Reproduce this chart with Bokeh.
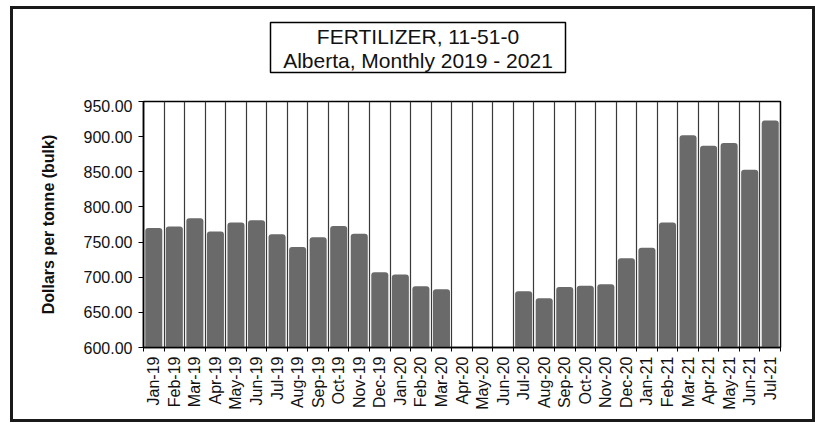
from bokeh.plotting import figure
from bokeh.layouts import column
from bokeh.models import Range1d, FixedTicker, NumeralTickFormatter, ColumnDataSource
from bokeh.core.properties import value
from bokeh.embed import file_html
from bokeh.resources import INLINE
import math

# ---- data ----
months = ["Jan-19", "Feb-19", "Mar-19", "Apr-19", "May-19", "Jun-19", "Jul-19", "Aug-19",
          "Sep-19", "Oct-19", "Nov-19", "Dec-19", "Jan-20", "Feb-20", "Mar-20", "Apr-20",
          "May-20", "Jun-20", "Jul-20", "Aug-20", "Sep-20", "Oct-20", "Nov-20", "Dec-20",
          "Jan-21", "Feb-21", "Mar-21", "Apr-21", "May-21", "Jun-21", "Jul-21"]
prices = [770, 772, 784, 765, 778, 781, 761, 743,
          757, 773, 762, 707, 704, 687, 683, None,
          None, None, 680, 670, 686, 688, 690, 727,
          742, 778, 902, 887, 891, 853, 923]
y_ticks = [600, 650, 700, 750, 800, 850, 900, 950]
title_lines = ["FERTILIZER, 11-51-0", "Alberta, Monthly 2019 - 2021"]
y_label = "Dollars per tonne (bulk)"

FONT = "Liberation Sans"
W = 799
BORDER_L, BORDER_R = 130, 32
FRAME_W = W - BORDER_L - BORDER_R
TITLE_H = 90

xs = [i for i, v in enumerate(prices) if v is not None]
tops = [v for v in prices if v is not None]
src = ColumnDataSource(dict(x=xs, top=tops))

# ---- title strip (boxed two-line title), pixel-like coordinates ----
tf = figure(width=W, height=TITLE_H, output_backend="svg", toolbar_location=None,
            x_range=Range1d(0, FRAME_W), y_range=Range1d(0, TITLE_H),
            x_axis_type=None, y_axis_type=None,
            min_border_left=BORDER_L, min_border_right=BORDER_R,
            min_border_top=0, min_border_bottom=0)
tf.grid.visible = False
tf.outline_line_color = None
tf.border_fill_color = None
tf.background_fill_color = None
box_cx, box_w, box_bottom, box_top = 274.5, 295, 27, 77
tf.quad(left=[box_cx - box_w / 2], right=[box_cx + box_w / 2], bottom=[box_bottom], top=[box_top],
        fill_color="white", line_color="black", line_width=1.5)
tf.text(x=[box_cx, box_cx], y=[63.3, 39.5], text=title_lines,
        text_align="center", text_baseline="middle",
        text_font=value(FONT), text_font_size=value("21px"), text_color="#111111")

# ---- main chart ----
p = figure(width=W, height=320, output_backend="svg", toolbar_location=None,
           x_range=Range1d(-0.5, len(months) - 0.5), y_range=Range1d(y_ticks[0], y_ticks[-1]),
           min_border_left=BORDER_L, min_border_right=BORDER_R, min_border_top=2, min_border_bottom=72)
p.background_fill_color = "white"
p.border_fill_color = None
p.outline_line_color = "black"
p.outline_line_width = 1.5

# vertical separators at category boundaries
p.xgrid.ticker = FixedTicker(ticks=[i - 0.5 for i in range(len(months) + 1)])
p.xgrid.grid_line_color = "#3a3a3a"
p.xgrid.grid_line_width = 1.2
p.ygrid.visible = False

p.vbar(x="x", top="top", bottom=y_ticks[0], width=0.83, source=src,
       fill_color="#6a6a6a", line_color=None, border_radius=(3, 3, 0, 0))

# x axis
xa = p.xaxis[0]
xa.ticker = FixedTicker(ticks=list(range(len(months))),
                        minor_ticks=[i - 0.5 for i in range(len(months) + 1)])
xa.major_label_overrides = {i: m for i, m in enumerate(months)}
xa.major_label_orientation = math.pi / 2
xa.major_tick_line_color = None
xa.major_tick_out = 0
xa.major_tick_in = 0
xa.minor_tick_line_color = "black"
xa.minor_tick_out = 4
xa.minor_tick_in = 0
xa.major_label_standoff = 5
xa.major_label_text_font = FONT
xa.major_label_text_font_size = "16px"
xa.major_label_text_color = "#111111"
xa.axis_line_color = "black"
xa.axis_line_width = 1.5

# y axis
ya = p.yaxis[0]
ya.ticker = FixedTicker(ticks=y_ticks)
ya.formatter = NumeralTickFormatter(format="0.00")
ya.major_tick_out = 5
ya.major_tick_in = 0
ya.minor_tick_line_color = None
ya.major_label_standoff = 6
ya.major_label_text_font = FONT
ya.major_label_text_font_size = "16px"
ya.major_label_text_color = "#111111"
ya.axis_line_color = "black"
ya.axis_line_width = 1.5
ya.axis_label = y_label
ya.axis_label_text_font = FONT
ya.axis_label_text_font_size = "16px"
ya.axis_label_text_font_style = "bold"
ya.axis_label_text_color = "#111111"
ya.axis_label_standoff = 24

layout = column(tf, p, spacing=0,
                styles={"margin-left": "13px", "margin-top": "9px",
                        "outline": "3px solid #1a1a1a", "outline-offset": "0px"})

open("out.html", "w").write(file_html(layout, INLINE))
